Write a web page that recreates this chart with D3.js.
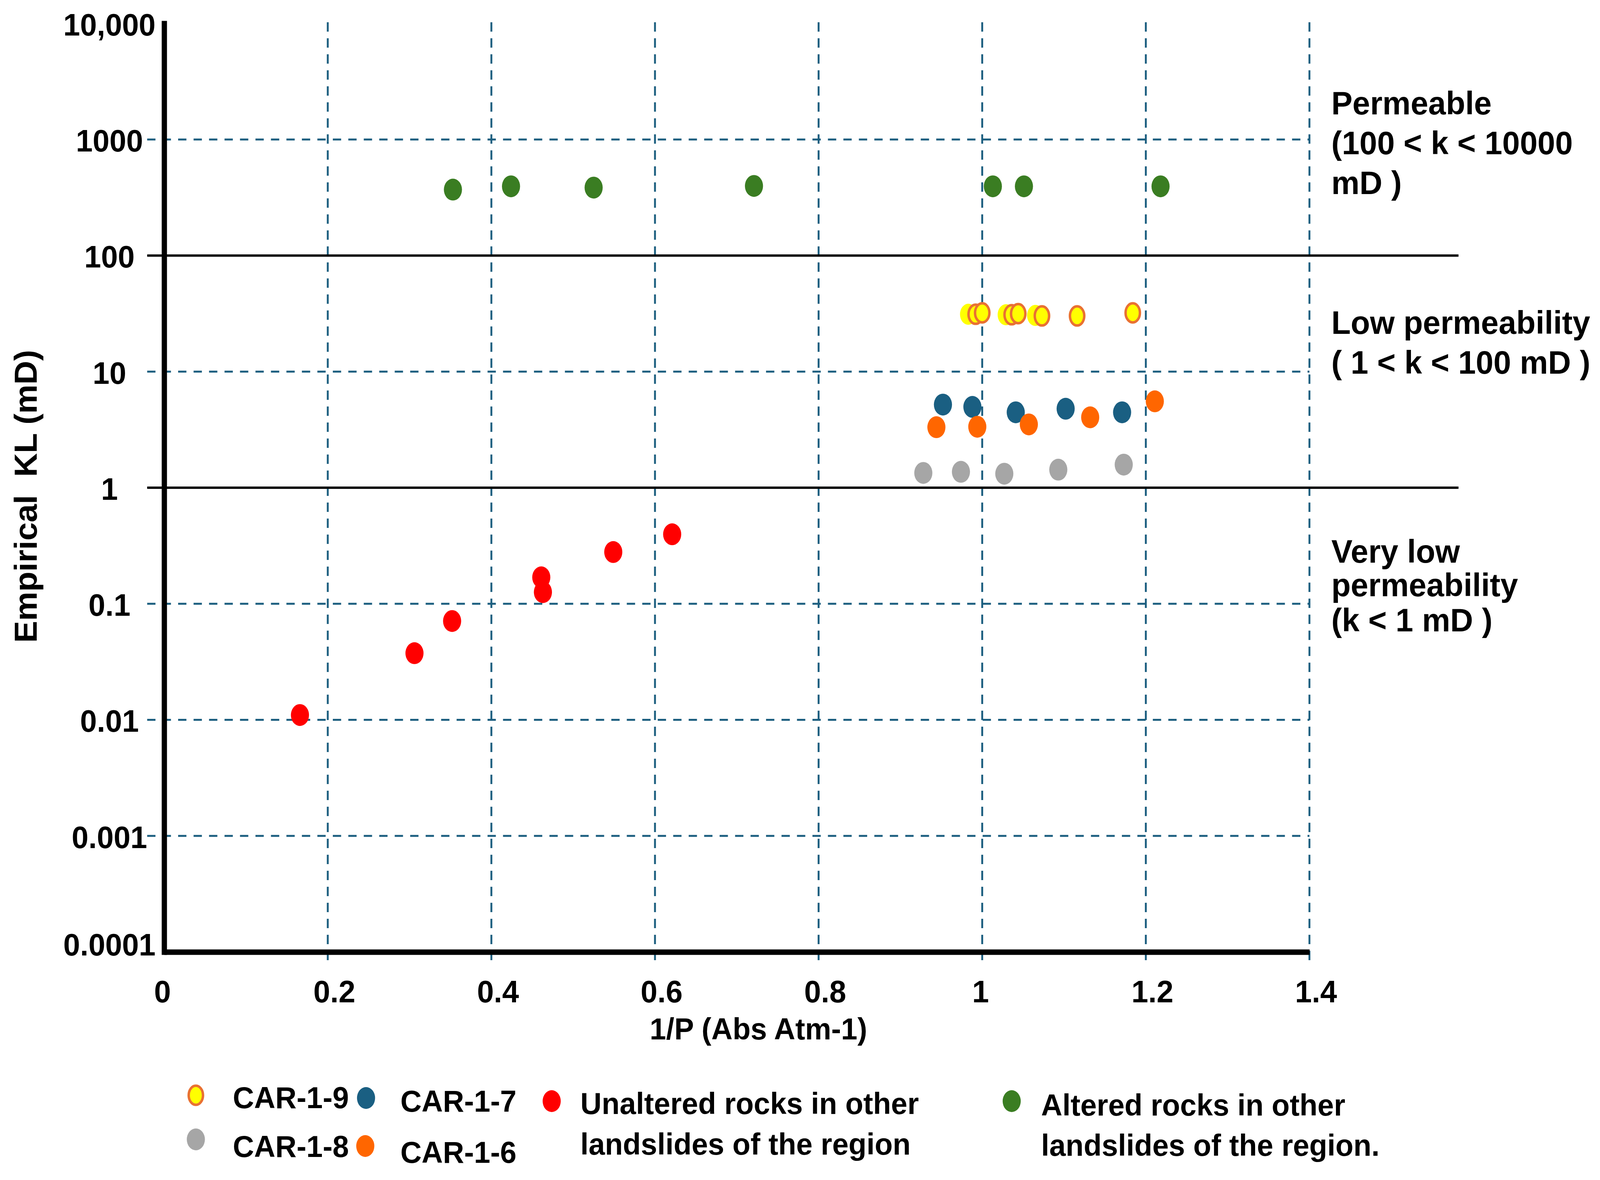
<!DOCTYPE html>
<html>
<head>
<meta charset="utf-8">
<script src="https://cdn.jsdelivr.net/npm/d3@7"></script>
<style>
  html, body { margin: 0; padding: 0; background: #ffffff; overflow: hidden; width: 100%; height: 100%; }
  svg { display: block; width: 100vw; height: 100vh; }
  text { font-family: "Liberation Sans", Arial, sans-serif; font-weight: bold; fill: #000; }
</style>
</head>
<body>
<svg id="chart" viewBox="0 0 4240 3022" preserveAspectRatio="none"></svg>
<script>
// ---------- data ----------
const xTicks = [0, 0.2, 0.4, 0.6, 0.8, 1, 1.2, 1.4];
const xTickLabels = ["0", "0.2", "0.4", "0.6", "0.8", "1", "1.2", "1.4"];
const yTicks = [0.0001, 0.001, 0.01, 0.1, 1, 10, 100, 1000, 10000];
const yTickLabels = ["0.0001", "0.001", "0.01", "0.1", "1", "10", "100", "1000", "10,000"];
const dashedLevels = [0.001, 0.01, 0.1, 10, 1000];
const solidLevels = [1, 100];

const alteredX = [0.353, 0.424, 0.525, 0.721, 1.013, 1.051, 1.218];
const alteredY = [370, 395, 385, 398, 395, 395, 395];

const unalteredX = [0.166, 0.306, 0.352, 0.461, 0.463, 0.549, 0.621];
const unalteredY = [0.011, 0.0375, 0.071, 0.169, 0.126, 0.279, 0.397];

const car18X = [0.928, 0.974, 1.027, 1.093, 1.173];
const car18Y = [1.34, 1.37, 1.32, 1.43, 1.58];

const car17X = [0.952, 0.988, 1.041, 1.102, 1.171];
const car17Y = [5.20, 4.97, 4.46, 4.79, 4.46];

const car16X = [0.944, 0.994, 1.057, 1.132, 1.211];
const car16Y = [3.32, 3.35, 3.51, 4.04, 5.55];

const car19PlainX = [0.983, 1.029, 1.065];
const car19PlainY = [31.2, 30.9, 30.5];
const car19X = [0.992, 1.000, 1.036, 1.044, 1.073, 1.116, 1.184];
const car19Y = [31.2, 32.1, 30.9, 31.6, 30.2, 30.2, 32.1];

const zoneLabels = [
  ["Permeable", "(100 < k < 10000", "mD )"],
  ["Low permeability", "( 1 < k < 100 mD )"],
  ["Very low", "permeability", "(k < 1 mD )"]
];

const legendLabels = [
  ["CAR-1-9"], ["CAR-1-7"],
  ["Unaltered rocks in other", "landslides of the region"],
  ["Altered rocks in other", "landslides of the region."],
  ["CAR-1-8"], ["CAR-1-6"]
];

const xTitle = "1/P (Abs Atm-1)";
const yTitle = "Empirical  KL (mD)";

// ---------- styles ----------
const GRID = "#1d5f80";
const styles = {
  altered:   { fill: "#3a7d22", stroke: "none", sw: 0, rx: 24, ry: 28 },
  unaltered: { fill: "#ff0000", stroke: "none", sw: 0, rx: 24, ry: 28 },
  car18:     { fill: "#a6a6a6", stroke: "none", sw: 0, rx: 24, ry: 28 },
  car17:     { fill: "#1a5f82", stroke: "none", sw: 0, rx: 24, ry: 28 },
  car16:     { fill: "#ff6600", stroke: "none", sw: 0, rx: 24, ry: 28 },
  car19p:    { fill: "#ffff00", stroke: "none", sw: 0, rx: 22, ry: 27 },
  car19:     { fill: "#ffff00", stroke: "#e97132", sw: 6.5, rx: 19, ry: 24.5 }
};

// ---------- scales ----------
const svg = d3.select("#chart");
svg.append("rect").attr("width", 4240).attr("height", 3022).attr("fill", "#fff");

const x = d3.scaleLinear().domain([0, 1.4]).range([435, 3470]);
const y = d3.scaleLog().domain([0.0001, 10000]).range([2438, 60]);

// ---------- grid ----------
const grid = svg.append("g");
grid.selectAll("line.vgrid").data(xTicks.slice(1)).join("line")
  .attr("x1", d => x(d)).attr("x2", d => x(d))
  .attr("y1", 57).attr("y2", 2472)
  .attr("stroke", GRID).attr("stroke-width", 5).attr("stroke-dasharray", "24,17");

grid.selectAll("line.hgrid").data(dashedLevels).join("line")
  .attr("x1", 390).attr("x2", x(1.4))
  .attr("y1", d => y(d)).attr("y2", d => y(d))
  .attr("stroke", GRID).attr("stroke-width", 5).attr("stroke-dasharray", "22,19");

grid.selectAll("line.solid").data(solidLevels).join("line")
  .attr("x1", 390).attr("x2", 3865)
  .attr("y1", d => y(d)).attr("y2", d => y(d))
  .attr("stroke", "#000").attr("stroke-width", 6);

// ---------- axes ----------
const yAxis = d3.axisLeft(y).tickValues(yTicks)
  .tickFormat((d, i) => yTickLabels[i]).tickSize(0).tickSizeOuter(0);
const gy = svg.append("g").attr("transform", `translate(${x(0)},0)`).call(yAxis);
gy.select(".domain").attr("stroke", "#000").attr("stroke-width", 14).attr("stroke-linecap", "square");
gy.selectAll(".tick text")
  .attr("x", -145).attr("dy", (d) => d === 0.0001 ? "0.1em" : "0.38em")
  .attr("text-anchor", "middle")
  .style("font-size", "80px").style("font-family", "'Liberation Sans', Arial, sans-serif")
  .style("font-weight", "bold").attr("fill", "#000");

const xAxis = d3.axisBottom(x).tickValues(xTicks)
  .tickFormat((d, i) => xTickLabels[i]).tickSize(0).tickSizeOuter(0);
const gx = svg.append("g").attr("transform", `translate(0,${y(0.0001)})`).call(xAxis);
gx.select(".domain").attr("stroke", "#000").attr("stroke-width", 14);
gx.selectAll(".tick text")
  .attr("y", 129).attr("dy", 0)
  .attr("dx", (d, i) => xTickLabels[i].length === 1 ? -5 : 17)
  .attr("text-anchor", "middle")
  .style("font-size", "80px").style("font-family", "'Liberation Sans', Arial, sans-serif")
  .style("font-weight", "bold").attr("fill", "#000");

// titles
svg.append("text").attr("x", 2010).attr("y", 2662).attr("text-anchor", "middle")
  .style("font-size", "78px").text(xTitle);
svg.append("text").attr("transform", "translate(97,1271) rotate(-90)")
  .attr("text-anchor", "middle").style("font-size", "84px").attr("xml:space", "preserve")
  .style("white-space", "pre").text(yTitle);

// ---------- points ----------
function drawSeries(xs, ys, st) {
  const pts = xs.map((v, i) => ({ x: v, y: ys[i] }));
  svg.append("g").selectAll("ellipse").data(pts).join("ellipse")
    .attr("cx", d => x(d.x)).attr("cy", d => y(d.y))
    .attr("rx", st.rx).attr("ry", st.ry)
    .attr("fill", st.fill).attr("stroke", st.stroke).attr("stroke-width", st.sw);
}
drawSeries(alteredX, alteredY, styles.altered);
drawSeries(unalteredX, unalteredY, styles.unaltered);
drawSeries(car18X, car18Y, styles.car18);
drawSeries(car17X, car17Y, styles.car17);
drawSeries(car16X, car16Y, styles.car16);
drawSeries(car19PlainX, car19PlainY, styles.car19p);
drawSeries(car19X, car19Y, styles.car19);

// ---------- zone annotations ----------
const zoneBaselines = [[293, 395, 497], [855, 957], [1441, 1527, 1617]];
zoneLabels.forEach((lines, bi) => {
  lines.forEach((t, li) => {
    svg.append("text").attr("x", 3528).attr("y", zoneBaselines[bi][li])
      .style("font-size", "84px").attr("xml:space", "preserve").style("white-space", "pre").text(t);
  });
});

// ---------- legend ----------
const legendStyles = [styles.car19, styles.car17, styles.unaltered, styles.altered, styles.car18, styles.car16];
const legendMarkerPos = [[519, 2805], [970, 2812], [1462, 2820], [2681, 2820], [519, 2918], [968, 2935]];
const legendTextPos = [[617, 2838], [1061, 2847], [1538, 2853], [2759, 2857], [617, 2963], [1061, 2978]];
const legendLineGap = [0, 0, 104, 103, 0, 0];
const lg = svg.append("g");
legendLabels.forEach((lines, i) => {
  const st = legendStyles[i];
  lg.append("ellipse").attr("cx", legendMarkerPos[i][0]).attr("cy", legendMarkerPos[i][1])
    .attr("rx", st.rx).attr("ry", st.ry).attr("fill", st.fill)
    .attr("stroke", st.stroke).attr("stroke-width", st.sw);
  lines.forEach((t, li) => {
    lg.append("text").attr("x", legendTextPos[i][0]).attr("y", legendTextPos[i][1] + li * legendLineGap[i])
      .style("font-size", "78px").text(t);
  });
});
</script>
</body>
</html>
